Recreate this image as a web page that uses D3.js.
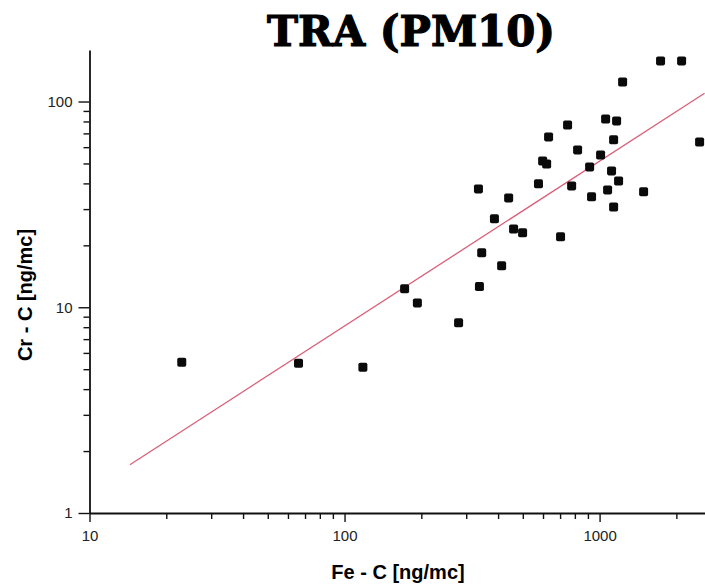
<!DOCTYPE html>
<html>
<head>
<meta charset="utf-8">
<script src="https://cdn.jsdelivr.net/npm/d3@7"></script>
<style>
  body { margin: 0; background: #fff; }
  .tick text { font-family: "Liberation Sans Narrow", "Liberation Sans", Arial, sans-serif; font-size: 15px; fill: #222; }
  .axis path, .axis line { stroke: #111; }
</style>
</head>
<body>
<div id="chart"></div>
<script>
// Fe - C (x) and Cr - C (y) concentrations, ng/mc
const feValues = [23, 66, 118, 172, 193, 280, 338, 335, 345, 387, 413, 440, 460, 499, 576, 598, 620, 631, 703,
    749, 777, 820, 914, 930, 1009, 1056, 1075, 1114, 1135, 1135, 1166, 1187, 1231, 1488, 1734, 2097, 2467];
const crValues = [5.4, 5.34, 5.11, 12.3, 10.5, 8.4, 12.6, 37.6, 18.4, 26.9, 15.9, 34.0, 24.0, 23.0, 39.8, 51.4, 49.7, 67.3, 22.0,
    76.9, 38.9, 58.2, 48.1, 34.4, 55.0, 82.3, 37.2, 46.0, 65.1, 30.7, 80.5, 41.1, 124.5, 36.4, 157.6, 157.6, 63.6];

// regressione in scala log: log10(y) = a + b*log10(x)
const fitIntercept = -0.694;
const fitSlope = 0.8014;
const fitRange = [14.4, 2580];

const xMajorTicks = [10, 100, 1000];
const xMinorTicks = [20, 30, 40, 50, 60, 70, 80, 90, 200, 300, 400, 500, 600, 700, 800, 900, 2000];
const yMajorTicks = [1, 10, 100];
const yMinorTicks = [2, 3, 4, 5, 6, 7, 8, 9, 20, 30, 40, 50, 60, 70, 80, 90];

const width = 705;
const height = 586;
const margin = { top: 50, right: 0, bottom: 73, left: 89.5 };

const svg = d3.select("#chart")
    .append("svg")
    .attr("width", width)
    .attr("height", height);

const x = d3.scaleLog()
    .domain([10, 2590])
    .range([margin.left, width - margin.right]);

const y = d3.scaleLog()
    .domain([1, 178])
    .range([height - margin.bottom, margin.top]);

// titolo
svg.append("text")
    .attr("x", 411)
    .attr("y", 46)
    .attr("text-anchor", "middle")
    .attr("textLength", 288)
    .attr("lengthAdjust", "spacingAndGlyphs")
    .style("font-family", "'DejaVu Serif', serif")
    .style("font-weight", "bold")
    .style("font-size", "42px")
    .style("fill", "#000")
    .style("stroke", "#000")
    .style("stroke-width", 1.2)
    .text("TRA (PM10)");

// assi
const xAxisG = svg.append("g")
    .attr("class", "axis")
    .attr("transform", "translate(0," + (height - margin.bottom) + ")");

xAxisG.append("g")
    .call(d3.axisBottom(x).tickValues(xMinorTicks).tickSize(6).tickSizeOuter(0).tickFormat(""))
    .call(g => g.select(".domain").remove());

xAxisG.append("g")
    .call(d3.axisBottom(x).tickValues(xMajorTicks).tickSize(9).tickSizeOuter(0).tickPadding(8).tickFormat(d3.format("d")))
    .call(g => g.select(".domain").attr("stroke-width", 1.8));

const yAxisG = svg.append("g")
    .attr("class", "axis")
    .attr("transform", "translate(" + margin.left + ",0)");

yAxisG.append("g")
    .call(d3.axisLeft(y).tickValues(yMinorTicks).tickSize(6).tickSizeOuter(0).tickFormat(""))
    .call(g => g.select(".domain").remove());

yAxisG.append("g")
    .call(d3.axisLeft(y).tickValues(yMajorTicks).tickSize(11).tickSizeOuter(0).tickPadding(6).tickFormat(d3.format("d")))
    .call(g => g.select(".domain").attr("stroke-width", 1.8));

svg.selectAll(".axis line").attr("stroke-width", 1.4);

// etichette assi
svg.append("text")
    .attr("x", 398)
    .attr("y", 579)
    .attr("text-anchor", "middle")
    .style("font-family", "'Liberation Sans', Arial, sans-serif")
    .style("font-weight", "bold")
    .style("font-size", "20px")
    .text("Fe - C [ng/mc]");

svg.append("text")
    .attr("transform", "translate(32,295) rotate(-90)")
    .attr("text-anchor", "middle")
    .style("font-family", "'Liberation Sans', Arial, sans-serif")
    .style("font-weight", "bold")
    .style("font-size", "20px")
    .text("Cr - C [ng/mc]");

// retta di regressione
const fitLine = fitRange.map(v => [v, Math.pow(10, fitIntercept + fitSlope * Math.log10(v))]);

svg.append("path")
    .datum(fitLine)
    .attr("fill", "none")
    .attr("stroke", "#d9607a")
    .attr("stroke-width", 1.3)
    .attr("d", d3.line().x(d => x(d[0])).y(d => y(d[1])));

// punti
const points = feValues.map((v, i) => ({ fe: v, cr: crValues[i] }));

svg.selectAll("rect.pt")
    .data(points)
    .enter().append("rect")
    .attr("class", "pt")
    .attr("x", d => x(d.fe) - 4.5)
    .attr("y", d => y(d.cr) - 4.5)
    .attr("width", 9)
    .attr("height", 9)
    .attr("rx", 1.8)
    .attr("fill", "#0a0a0a");
</script>
</body>
</html>
